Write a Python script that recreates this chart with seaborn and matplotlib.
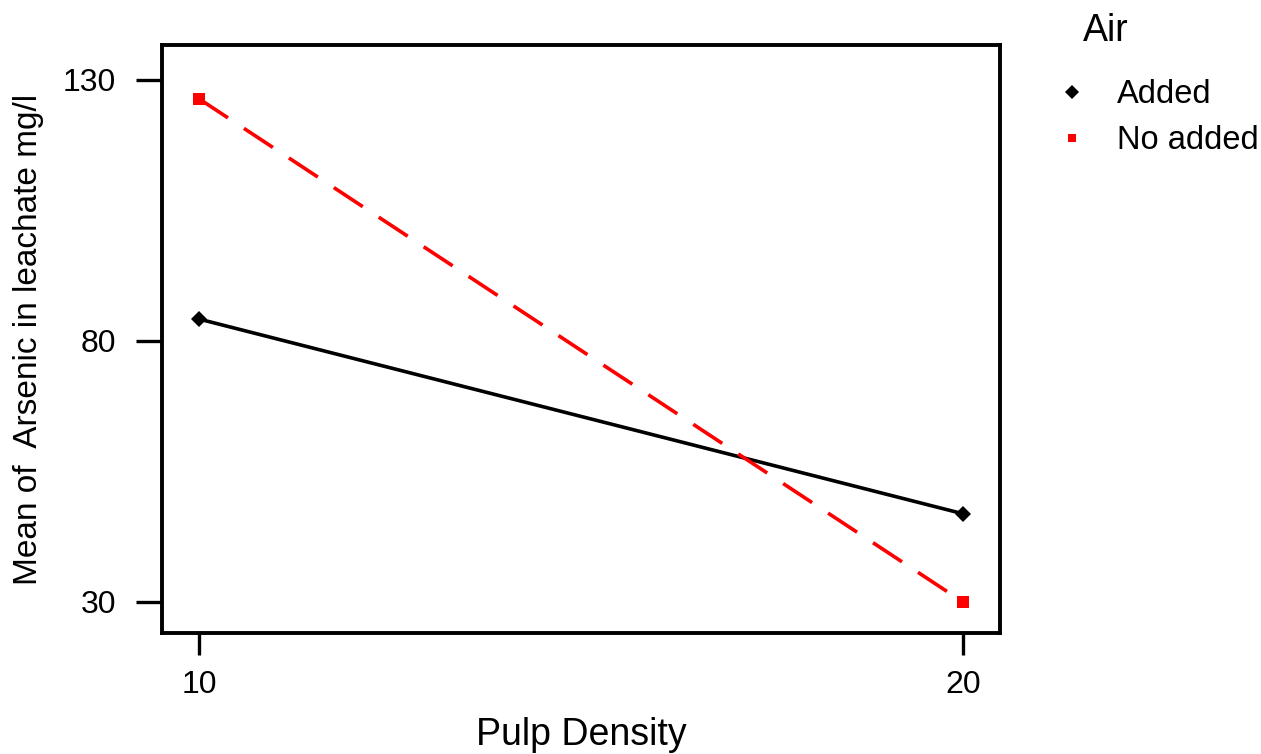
import pandas as pd
import matplotlib
matplotlib.use('Agg')
import matplotlib.pyplot as plt
from matplotlib.lines import Line2D
import seaborn as sns

# data
pulp_density = [10, 20, 10, 20]
air = ['Added', 'Added', 'No added', 'No added']
arsenic = [84.2, 46.9, 126.4, 30.0]

df = pd.DataFrame({'Pulp Density': pulp_density, 'Air': air, 'Arsenic': arsenic})

sns.set_style('white')
plt.rcParams['font.family'] = ['Liberation Sans', 'DejaVu Sans']
plt.rcParams['text.color'] = 'black'
plt.rcParams['axes.labelcolor'] = 'black'
plt.rcParams['xtick.color'] = 'black'
plt.rcParams['ytick.color'] = 'black'

fig = plt.figure(figsize=(12.61, 7.54), dpi=100)
ax = fig.add_axes([0.1285, 0.1605, 0.6645, 0.7798])

palette = {'Added': 'black', 'No added': '#ff0000'}
sns.lineplot(
    data=df,
    x='Pulp Density',
    y='Arsenic',
    hue='Air',
    style='Air',
    palette=palette,
    markers={'Added': 'D', 'No added': 's'},
    dashes={'Added': '', 'No added': (9.6, 5.3)},
    markersize=8.5,
    markeredgewidth=0,
    linewidth=2.6,
    legend=False,
    ax=ax
)

ax.set_xlim(9.516, 20.484)
ax.set_ylim(24.06, 136.7)
ax.set_xticks([10, 20])
ax.set_yticks([30, 80, 130])
ax.tick_params(axis='y', length=19, width=2.4, pad=14, labelsize=23, left=True)
ax.tick_params(axis='x', length=16, width=2.4, pad=11, labelsize=23, bottom=True)
for s in ax.spines.values():
    s.set_linewidth(2.8)
    s.set_color('black')

ax.set_xlabel('Pulp Density', fontsize=27, labelpad=12)
ax.set_ylabel('Mean of  Arsenic in leachate mg/l', fontsize=24, labelpad=14)

# legend: title as its own text, entries as marker-only handles
fig.text(0.8588, 0.959, 'Air', fontsize=27, ha='left', va='center')
handles = [
    Line2D([], [], color='black', marker='D', linestyle='none', markersize=7, markeredgewidth=0),
    Line2D([], [], color='#ff0000', marker='s', linestyle='none', markersize=6, markeredgewidth=0),
]
leg = fig.legend(handles, ['Added', 'No added'], loc='upper left',
                 bbox_to_anchor=(0.8398, 0.895), frameon=False, fontsize=23.5,
                 borderpad=0, borderaxespad=0, handletextpad=0.99,
                 labelspacing=0.46, handlelength=0.8)

fig.savefig('out.png', dpi=100)
